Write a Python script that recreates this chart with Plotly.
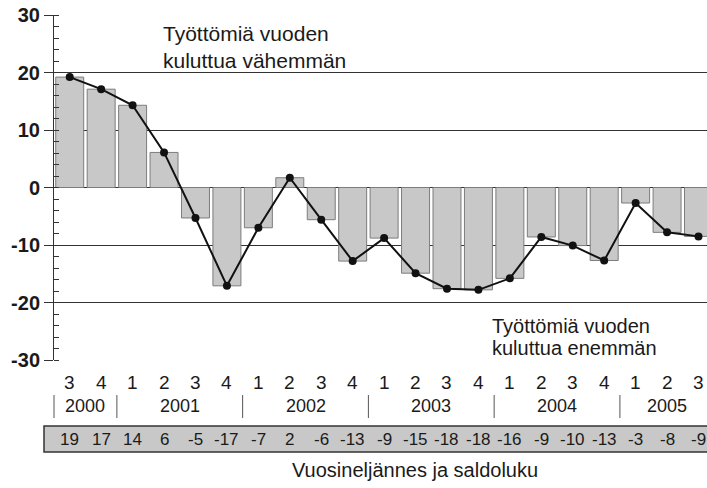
import plotly.graph_objects as go

# ---- data ----
quarters = ["3", "4", "1", "2", "3", "4", "1", "2", "3", "4", "1", "2", "3", "4",
            "1", "2", "3", "4", "1", "2", "3"]
years = ["2000", "2001", "2002", "2003", "2004", "2005"]
quarters_per_year = [2, 4, 4, 4, 4, 3]
values = [19.2, 17.1, 14.3, 6.1, -5.3, -17.1, -7.0, 1.7, -5.6, -12.8, -8.8,
          -14.9, -17.6, -17.8, -15.8, -8.6, -10.1, -12.7, -2.7, -7.8, -8.5]
table_labels = ["19", "17", "14", "6", "-5", "-17", "-7", "2", "-6", "-13", "-9",
                "-15", "-18", "-18", "-16", "-9", "-10", "-13", "-3", "-8", "-9"]
y_ticks = [30, 20, 10, 0, -10, -20, -30]
note_top = ["Työttömiä vuoden", "kuluttua vähemmän"]
note_bottom = ["Työttömiä vuoden", "kuluttua enemmän"]
x_title = "Vuosineljännes ja saldoluku"

# ---- layout geometry ----
W, H = 707, 488
ML, MR, MT, MB = 54, 0, 15, 128
PH = H - MT - MB
PW = W - ML - MR
XR = [-0.5, 20.27]


def py(pix):
    """pixel row -> paper y"""
    return (H - MB - pix) / PH


def px(pix):
    return (pix - ML) / PW


def xpaper(idx):
    return (idx - XR[0]) / (XR[1] - XR[0])


FONT = "Liberation Sans, Arial, sans-serif"
NARROW = "Liberation Sans Narrow, Arial Narrow, Liberation Sans, Arial, sans-serif"
INK = "#1a1a1a"
GRAY = "#c8c8c8"

cats = list(range(len(values)))

fig = go.Figure()
fig.add_trace(go.Bar(
    x=cats, y=values,
    marker=dict(color=GRAY, line=dict(color="#7c7c7c", width=1)),
    hoverinfo="skip",
))
fig.add_trace(go.Scatter(
    x=cats, y=values, mode="lines+markers",
    line=dict(color="#111111", width=2),
    marker=dict(color="#111111", size=8),
    hoverinfo="skip",
))

annotations = []
shapes = []

# quarter labels
for i, q in enumerate(quarters):
    annotations.append(dict(x=i, y=py(382.5), xref="x", yref="paper", text=q,
                            showarrow=False, xanchor="center", yanchor="middle",
                            font=dict(family=FONT, size=19, color=INK)))

# year labels and separators
start = -0.5
for k, (yr, n) in enumerate(zip(years, quarters_per_year)):
    end = start + n
    annotations.append(dict(x=(start + end) / 2, y=py(406.5), xref="x", yref="paper",
                            text=yr, showarrow=False, xanchor="center", yanchor="middle",
                            font=dict(family=FONT, size=18, color=INK)))
    shapes.append(dict(type="line", xref="paper", yref="paper",
                       x0=xpaper(start), x1=xpaper(start),
                       y0=py(395), y1=py(418),
                       line=dict(color="#555555", width=1)))
    start = end

# table box
shapes.append(dict(type="rect", xref="paper", yref="paper",
                   x0=px(44), x1=1.02, y0=py(452), y1=py(426),
                   fillcolor=GRAY, line=dict(color="#333333", width=1.5), layer="below"))
for i, t in enumerate(table_labels):
    annotations.append(dict(x=i, y=py(439), xref="x", yref="paper", text=t,
                            showarrow=False, xanchor="center", yanchor="middle",
                            font=dict(family=NARROW, size=17, color=INK)))

# axis title
annotations.append(dict(x=px(415), y=py(470), xref="paper", yref="paper", text=x_title,
                        showarrow=False, xanchor="center", yanchor="middle",
                        font=dict(family=FONT, size=20, color=INK)))

# notes inside the plot
for line_text, ypix in zip(note_top, [33, 60]):
    annotations.append(dict(x=px(161), y=py(ypix), xref="paper", yref="paper",
                            text=line_text, showarrow=False, xanchor="left",
                            yanchor="middle",
                            font=dict(family=FONT, size=21, color=INK)))
for line_text, ypix in zip(note_bottom, [326, 348]):
    annotations.append(dict(x=px(490), y=py(ypix), xref="paper", yref="paper",
                            text=line_text, showarrow=False, xanchor="left",
                            yanchor="middle",
                            font=dict(family=FONT, size=20, color=INK)))

fig.update_layout(
    width=W, height=H,
    margin=dict(l=ML, r=MR, t=MT, b=MB, pad=0, autoexpand=False),
    paper_bgcolor="white", plot_bgcolor="white",
    showlegend=False,
    bargap=0.11,
    annotations=annotations,
    shapes=shapes,
    xaxis=dict(range=XR, showgrid=False, zeroline=False, showline=False,
               showticklabels=False, ticks="", fixedrange=True, automargin=False),
    yaxis=dict(range=[-30, 30], tickvals=y_ticks, ticktext=[str(v) for v in y_ticks],
               showgrid=True, gridcolor="#333333", gridwidth=1,
               zeroline=False, showline=True, linecolor="#333333", linewidth=1,
               ticks="outside", ticklen=9, tickcolor="#333333", tickwidth=1,
               tickfont=dict(family=FONT, size=20, color=INK, weight="bold"),
               minor=dict(dtick=2, ticks="inside", ticklen=5, tickcolor="#333333",
                          showgrid=False),
               fixedrange=True, automargin=False),
)

fig.write_html("out.html", config={"displayModeBar": False},
               post_script="document.body.style.margin='0px';"
                           "document.body.style.overflow='hidden';")
